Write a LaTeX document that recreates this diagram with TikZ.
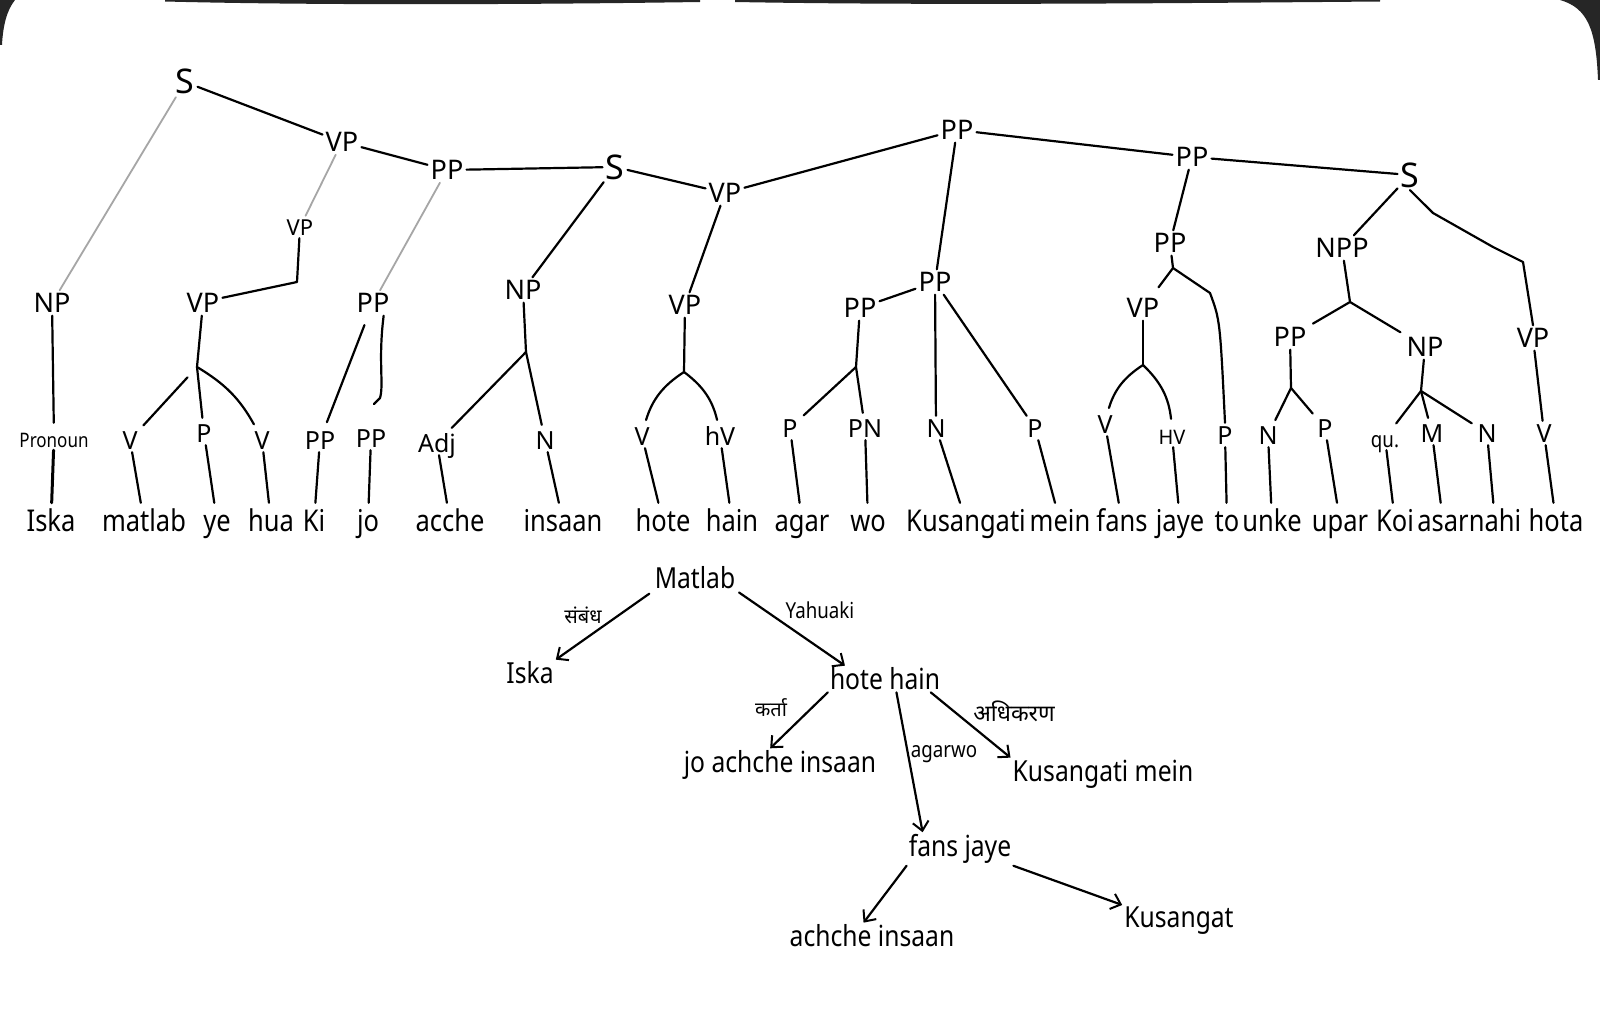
\documentclass[tikz,border=0pt]{standalone}
\usepackage{fontspec}
\setmainfont{Noto Sans}
\newfontfamily\hand[FakeStretch=0.85]{Noto Sans}
\newfontfamily\dev[Script=Devanagari]{Noto Sans}
\usetikzlibrary{calc,arrows.meta}
\begin{document}
\begin{tikzpicture}[x=1pt,y=-1pt,
  cat/.style={font=\fontsize{27}{30}\selectfont, inner sep=3pt, text height=19pt, text depth=0pt},
  bigS/.style={font=\fontsize{34}{36}\selectfont, inner sep=3pt, text height=24pt, text depth=0pt},
  smallcat/.style={font=\fontsize{22}{26}\selectfont, inner sep=3pt, text height=16pt, text depth=0pt},
  pre/.style={font=\fontsize{25}{28}\selectfont, inner sep=3pt, text height=18pt, text depth=0pt},
  word/.style={font=\hand\fontsize{30}{34}\selectfont, inner sep=2pt, anchor=base, text height=26pt, text depth=7pt},
  dep/.style={font=\hand\fontsize{29}{32}\selectfont, inner sep=2pt},
  rel/.style={font=\hand\fontsize{22}{24}\selectfont, inner sep=1pt},
  drel/.style={font=\dev\fontsize{20}{24}\selectfont, inner sep=1pt},
  br/.style={line width=2.2pt, line cap=round, line join=round},
  faint/.style={br, draw=black!35, line width=1.8pt},
  arr/.style={br, -{Straight Barb[length=9pt,width=16pt,line width=2pt]}},
]
\useasboundingbox (0,0) rectangle (1600,1022);
\fill[white] (0,0) rectangle (1600,1022);
% photo edges
\fill[black!85] (165,0) -- (700,0) -- (700,2) .. controls (500,5) and (300,5) .. (165,1.5) -- cycle;
\fill[black!85] (735,0) -- (1380,0) -- (1380,1.5) .. controls (1100,4) and (900,5) .. (735,2) -- cycle;
\fill[black!85] (1560,0) -- (1600,0) -- (1600,80) -- (1598,80) .. controls (1596,30) and (1588,8) .. (1560,0) -- cycle;
\fill[black!85] (0,0) -- (15,0) .. controls (7,10) and (3,25) .. (2,45) -- (0,45) -- cycle;

% ---------- phrase nodes ----------
\node[bigS] (S1) at (185,82) {S};
\node[cat] (VP1) at (342,142) {\textbf{V}P};
\node[cat] (PP1) at (447,170) {PP};
\node[bigS] (S2) at (615,167) {S};
\node[cat] (VP2) at (725,193) {V\textbf{P}};
\node[cat] (PP2) at (957,130) {\textbf{P}P};
\node[cat] (PP3) at (1192,157) {PP};
\node[bigS] (S3) at (1410,175) {S};

\node[cat] (NP1) at (52,303) {NP};
\node[smallcat] (VPs) at (300,227) {VP};
\node[cat] (VPl) at (203,303) {VP};
\node[cat] (PPl) at (373,303) {PP};
\node[cat] (NP2) at (523,290) {NP};
\node[cat] (VP3) at (685,305) {VP};
\node[cat] (PP4) at (935,282) {PP};
\node[cat] (PP5) at (860,308) {PP};
\node[cat] (PP6) at (1170,243) {PP};
\node[cat] (VP4) at (1143,308) {VP};
\node[cat] (NPP) at (1342,248) {N\textbf{P}P};
\node[cat] (PP7) at (1290,337) {\textbf{P}P};
\node[cat] (NP3) at (1425,347) {NP};
\node[cat] (VP5) at (1533,338) {VP};

% ---------- preterminals ----------
\node[pre, font=\hand\fontsize{20}{24}\selectfont] (t1) at (54,438) {Pronoun};
\node[pre] (t2) at (130,440) {V};
\node[pre] (t3) at (204,433) {P};
\node[pre] (t4) at (262,440) {V};
\node[pre] (t5) at (320,440) {PP};
\node[pre] (t6) at (371,438) {PP};
\node[pre] (t7) at (437,443) {Adj};
\node[pre] (t8) at (545,440) {N};
\node[pre] (t9) at (642,436) {V};
\node[pre] (t10) at (720,436) {hV};
\node[pre] (t11) at (790,428) {P};
\node[pre] (t12) at (865,428) {PN};
\node[pre] (t13) at (936,428) {N};
\node[pre] (t14) at (1035,428) {P};
\node[pre] (t15) at (1105,424) {V};
\node[pre, font=\fontsize{20}{24}\selectfont] (t16) at (1172,435) {HV};
\node[pre] (t17) at (1225,435) {P};
\node[pre] (t18) at (1268,435) {N};
\node[pre] (t19) at (1325,428) {P};
\node[pre, font=\hand\fontsize{22}{26}\selectfont] (t20) at (1385,438) {qu.};
\node[pre] (t21) at (1432,433) {\textbf{M}};
\node[pre] (t22) at (1487,433) {N};
\node[pre] (t23) at (1544,433) {V};

% ---------- words ----------
\node[word] (w1) at (51,531) {Iska};
\node[word] (w2) at (144,531) {matlab};
\node[word] (w3) at (217,531) {ye};
\node[word] (w4) at (271,531) {hua};
\node[word] (w5) at (314,531) {Ki};
\node[word] (w6) at (368,531) {jo};
\node[word] (w7) at (450,531) {acche};
\node[word] (w8) at (563,531) {insaan};
\node[word] (w9) at (663,531) {hote};
\node[word] (w10) at (732,531) {hain};
\node[word] (w11) at (802,531) {agar};
\node[word] (w12) at (868,531) {wo};
\node[word] (w13) at (966,531) {Kusangati};
\node[word] (w14) at (1060,531) {mein};
\node[word] (w15) at (1122,531) {fans};
\node[word] (w16) at (1180,531) {jaye};
\node[word] (w17) at (1227,531) {to};
\node[word] (w18) at (1272,531) {unke};
\node[word] (w19) at (1340,531) {upar};
\node[word] (w20) at (1395,531) {Koi};
\node[word] (w21) at (1443,531) {asar};
\node[word] (w22) at (1495,531) {nahi};
\node[word] (w23) at (1556,531) {hota};

% ---------- branch points ----------
\coordinate (hk) at (297,282);
\coordinate (aVPl) at (197,367);
\coordinate (aNP2) at (526,352);
\coordinate (aVP3) at (684,372);
\coordinate (aPP5) at (856,367);
\coordinate (aVP4) at (1143,365);
\coordinate (aPP6) at (1173,268);
\coordinate (bPP6) at (1210,293);
\coordinate (aNPP) at (1350,302);
\coordinate (aPP7) at (1291,388);
\coordinate (aNP3) at (1421,391);
\coordinate (bS3a) at (1433,213);
\coordinate (bS3b) at (1493,247);
\coordinate (bS3c) at (1523,262);
\coordinate (hook6) at (374,404);

% ---------- tree edges ----------
\draw[faint] (S1) -- (NP1);
\draw[br] (S1) -- (VP1);
\draw[br] (VP1) -- (PP1);
\draw[faint] (VP1) -- (VPs);
\draw[br] (VPs) -- (hk) -- (VPl.15);
\draw[faint] (PP1) -- (PPl);
\draw[br] (PP1) -- (S2);
\draw[br] (S2) -- (NP2);
\draw[br] (VP2) -- (S2);
\draw[br] (VP2) -- (VP3);
\draw[br] (VP2) -- (PP2);
\draw[br] (PP2) -- (PP4);
\draw[br] (PP2) -- (PP3);
\draw[br] (PP3) -- (S3);
\draw[br] (PP3) -- (PP6);
\draw[br] (S3) -- (NPP);
\draw[br] (S3.south) -- (bS3a) -- (bS3b) -- (bS3c) -- (VP5.north);
\draw[br] (NPP) -- (aNPP);
\draw[br, shorten >=4pt] (aNPP) -- (PP7);
\draw[br, shorten >=4pt] (aNPP) -- (NP3);
\draw[br] (PP7) -- (aPP7);
\draw[br, shorten >=3pt] (aPP7) -- (t18);
\draw[br, shorten >=3pt] (aPP7) -- (t19);
\draw[br] (NP3) -- (aNP3);
\draw[br, shorten >=3pt] (aNP3) -- (t20);
\draw[br, shorten >=3pt] (aNP3) -- (t21);
\draw[br, shorten >=3pt] (aNP3) -- (t22);
\draw[br] (VP5) -- (t23);
\draw[br] (PP6) -- (aPP6);
\draw[br, shorten >=10pt] (aPP6) -- (VP4);
\draw[br] (aPP6) -- (bPP6) .. controls (1220,320) .. (t17.north);
\draw[br] (VP4) -- (aVP4);
\draw[br, shorten >=4pt] (aVP4) to[bend right=20] (t15);
\draw[br, shorten >=4pt] (aVP4) to[bend left=20] (t16);
\draw[br] (PP4) -- (PP5);
\draw[br] (PP4) -- (t13);
\draw[br] (PP4) -- (t14);
\draw[br] (PP5) -- (aPP5);
\draw[br, shorten >=3pt] (aPP5) -- (t12);
\draw[br, shorten >=4pt] (aPP5) -- (t11);
\draw[br] (VP3) -- (aVP3);
\draw[br, shorten >=4pt] (aVP3) to[bend right=20] (t9);
\draw[br, shorten >=4pt] (aVP3) to[bend left=20] (t10);
\draw[br] (NP2) -- (aNP2);
\draw[br, shorten >=3pt] (aNP2) -- (t8);
\draw[br, shorten >=4pt] (aNP2) -- (t7);
\draw[br, shorten <=10pt, shorten >=6pt] (PPl) -- (t5);
\draw[br] (PPl.-50) .. controls (378,360) and (384,385) .. (380,398) -- (hook6);
\draw[br] (VPl) -- (aVPl);
\draw[br, shorten >=3pt] (aVPl) -- (t3);
\draw[br, shorten <=14pt, shorten >=4pt] (aVPl) -- (t2);
\draw[br, shorten >=4pt] (aVPl) to[bend left=15] (t4);
\draw[br, shorten >=3pt] (NP1) -- (t1);

% ---------- preterminal to word ----------
\draw[br, line width=3pt] (t1) -- (w1);
\foreach \i in {2,...,23} { \draw[br] (t\i) -- (w\i); }

% ---------- dependency tree ----------
\node[dep] (m) at (695,578) {Matlab};
\node[dep] (i) at (530,673) {Iska};
\node[dep] (h) at (885,679) {hote hain};
\node[dep] (j) at (780,765) {jo achche insaan};
\node[dep] (k) at (1103,774) {Kusangati mein};
\node[dep] (f) at (960,849) {fans jaye};
\node[dep] (a) at (872,936) {achche insaan};
\node[dep] (g) at (1179,921) {Kusangat};

\node[drel] (r1) at (583,615) {संबंध};
\node[rel] (r2) at (820,610) {Yahuaki};
\node[drel] (r3) at (771,708) {कर्ता};
\node[rel] (r4) at (944,754) {agarwo};
\node[drel, font=\dev\fontsize{23}{26}\selectfont] (r5) at (1014,711) {अधिकरण};

\draw[arr, shorten <=4pt] (m.south west) -- (i.north east);
\draw[arr, shorten <=2pt] (m.south east) -- ($(h.north west)!.15!(h.north east)$);
\draw[arr] (h.south west) -- ($(j.north west)!.45!(j.north east)$);
\draw[arr] ($(h.south west)!.6!(h.south east)$) -- ($(f.north west)!.15!(f.north east)$);
\draw[arr] ($(h.south west)!.9!(h.south east)$) -- (k.north west);
\draw[arr] (f.south west) -- ($(a.north west)!.45!(a.north east)$);
\draw[arr] (f.south east) -- (g.north west);
\end{tikzpicture}
\end{document}
